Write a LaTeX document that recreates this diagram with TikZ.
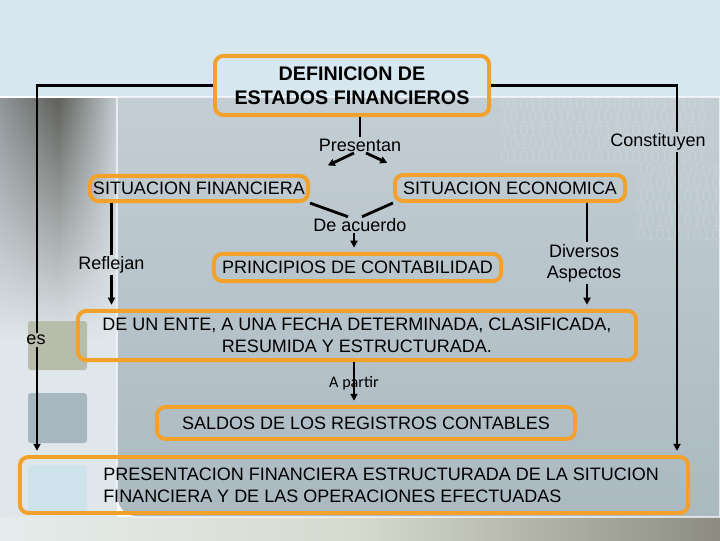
\documentclass[tikz,border=0pt]{standalone}
\usepackage{fontspec}
\setmainfont{Liberation Sans}
\newfontfamily\thinfont{Carlito}
\usepackage{xcolor}
\usepackage{tikz}
\usetikzlibrary{positioning, shapes, arrows.meta, fadings}

\definecolor{boxorange}{HTML}{F2A12A}
\definecolor{topband}{HTML}{D6E7EF}
\definecolor{leftlight}{HTML}{DFE7EB}
\definecolor{shadowgray}{HTML}{8F9598}
\definecolor{shadowdark}{HTML}{5F605B}
\definecolor{shadowlight}{HTML}{C4CCD0}
\definecolor{paneltop}{HTML}{C3CED4}
\definecolor{panelbottom}{HTML}{ABB9C1}
\definecolor{floorleft}{HTML}{E6ECEC}
\definecolor{floormid}{HTML}{D6DACE}
\definecolor{floorright}{HTML}{8C8C82}
\definecolor{sqone}{HTML}{B8BCAA}
\definecolor{sqtwo}{HTML}{A8B8C0}
\definecolor{sqthree}{HTML}{CFE3EC}

\newcommand{\bitrow}[1]{\ifodd#1\relax 1010101010101010101010\else 0101010101010101010101\fi}
\newcommand{\bitshort}[1]{\ifodd#1\relax 101010101\else 010101010\fi}

\begin{document}
\begin{tikzpicture}[x=0.025cm, y=-0.025cm, >={Triangle[length=5pt,width=5pt]},
    obox/.style={draw=boxorange, line width=2.8pt, rounded corners=6pt, align=center, inner sep=0pt, font=\fontsize{12.8}{15.5}\selectfont},
    lbl/.style={align=center, inner sep=1pt, font=\fontsize{12.8}{15}\selectfont},
    conn/.style={line width=2pt},
    bits/.style={anchor=west, inner sep=0pt, text=white, opacity=0.12, font=\fontsize{12}{12}\selectfont}]
    \useasboundingbox (0,0) rectangle (720,540);
    % Background of the slide
    \fill[topband] (0,0) rectangle (720,97);
    \fill[leftlight] (0,97) rectangle (117,517);
    \shade[left color=shadowgray, right color=shadowlight, middle color=shadowdark, path fading=south]
        (0,97) rectangle (117,340);
    \shade[left color=floorleft, right color=floorright, middle color=floormid] (0,517) rectangle (720,540);
    \shade[top color=paneltop, bottom color=panelbottom, draw=white, line width=0.8pt]
        (117,97) -- (720,97) -- (720,517) [rounded corners=0.5cm] -- (117,517) [sharp corners] -- cycle;
    \draw[white, line width=0.8pt] (0,97) -- (117,97);
    \foreach \r in {0,...,4}
        \node[bits] (bit\r) at (500,105+13*\r) {\bitrow{\r}};
    \foreach \r in {5,...,10}
        \node[bits] (bit\r) at (636,105+13*\r) {\bitshort{\r}};
    \fill[sqone, rounded corners=2pt] (28,321) rectangle (87,370);
    \fill[sqtwo, rounded corners=2pt] (28,393) rectangle (87,443);
    \fill[sqthree, rounded corners=2pt] (28,465) rectangle (87,513);
    % Boxes
    \node[obox, minimum width=6.85cm, minimum height=1.48cm, font=\fontsize{14}{17}\selectfont\bfseries] (defin) at (352,85.5) {DEFINICION DE\\ESTADOS FINANCIEROS};
    \node[obox, minimum width=5.45cm, minimum height=0.63cm] (sitfin) at (199,188.5) {SITUACION FINANCIERA};
    \node[obox, minimum width=5.75cm, minimum height=0.65cm] (siteco) at (510,188) {SITUACION ECONOMICA};
    \node[obox, minimum width=7.18cm, minimum height=0.68cm] (princ) at (357.5,267.5) {PRINCIPIOS DE CONTABILIDAD};
    \node[obox, minimum width=13.95cm, minimum height=1.23cm] (ente) at (357,335.5) {DE UN ENTE, A UNA FECHA DETERMINADA, CLASIFICADA,\\RESUMIDA Y ESTRUCTURADA.};
    \node[obox, minimum width=10.45cm, minimum height=0.8cm] (saldos) at (366,423) {SALDOS DE LOS REGISTROS CONTABLES};
    \node[obox, minimum width=16.7cm, minimum height=1.4cm] (presfin) at (354,485) {};
    \node[anchor=west, align=left, inner sep=0pt, font=\fontsize{12.8}{15.5}\selectfont] (presfintxt) at ([xshift=2.125cm]presfin.west) {PRESENTACION FINANCIERA ESTRUCTURADA DE LA SITUCION\\FINANCIERA Y DE LAS OPERACIONES EFECTUADAS};
    % Labels
    \node[lbl] (presentan) at (360,145) {Presentan};
    \node[lbl] (constit) at (658,142) {Constituyen};
    \node[lbl] (acuerdo) at (360,225) {De acuerdo};
    \node[lbl] (reflejan) at (111.5,265) {Reflejan};
    \node[lbl] (diversos) at (584,263) {Diversos\\Aspectos};
    \node[lbl] (es) at (36,340) {es};
    % Connections: title to the bottom box
    \draw[conn] (defin.west) -| ([xshift=0.025cm]es.north);
    \draw[conn,->,shorten >=3pt] ([xshift=0.025cm]es.south) -- ([xshift=0.025cm]es.south |- presfin.north);
    \draw[conn] (defin.east) -| ([xshift=0.475cm]constit.north);
    \draw[conn,->,shorten >=3pt] ([xshift=0.475cm]constit.south) -- ([xshift=0.475cm]constit.south |- presfin.north);
    % Connections: title to the two situations
    \draw[conn] (presentan.north |- defin.south) -- (presentan.north);
    \draw[conn,->,shorten >=14pt] ([xshift=-0.15cm]presentan.south) -- (sitfin.north east);
    \draw[conn,->,shorten >=17pt] ([xshift=0.15cm]presentan.south) -- ([xshift=0.4cm]siteco.north west);
    % Connections: situations to the principles
    \draw[conn] (sitfin.south east) -- ([xshift=-0.3cm]acuerdo.north);
    \draw[conn] (siteco.south west) -- ([xshift=0.05cm]acuerdo.north);
    \draw[conn,->,shorten >=3pt] ([xshift=-0.15cm]acuerdo.south) -- ([xshift=-0.15cm]acuerdo.south |- princ.north);
    % Connections: situations to the entity box
    \draw[conn] (reflejan.north |- sitfin.south) -- (reflejan.north);
    \draw[conn,->,shorten >=3pt] (reflejan.south) -- (reflejan.south |- ente.north);
    \draw[conn] ([xshift=0.075cm]diversos.north |- siteco.south) -- ([xshift=0.075cm]diversos.north);
    \draw[conn,->,shorten >=3pt] ([xshift=0.075cm]diversos.south) -- ([xshift=0.075cm]diversos.south |- ente.north);
    % Connections: entity box to the balances
    \draw[conn,->,shorten >=3pt] ([xshift=-0.075cm]ente.south) -- ([xshift=-0.075cm]ente.south |- saldos.north)
        node[midway, inner sep=0pt, font=\thinfont\fontsize{11.5}{13}\selectfont] (apartir) {A partir};
\end{tikzpicture}
\end{document}
